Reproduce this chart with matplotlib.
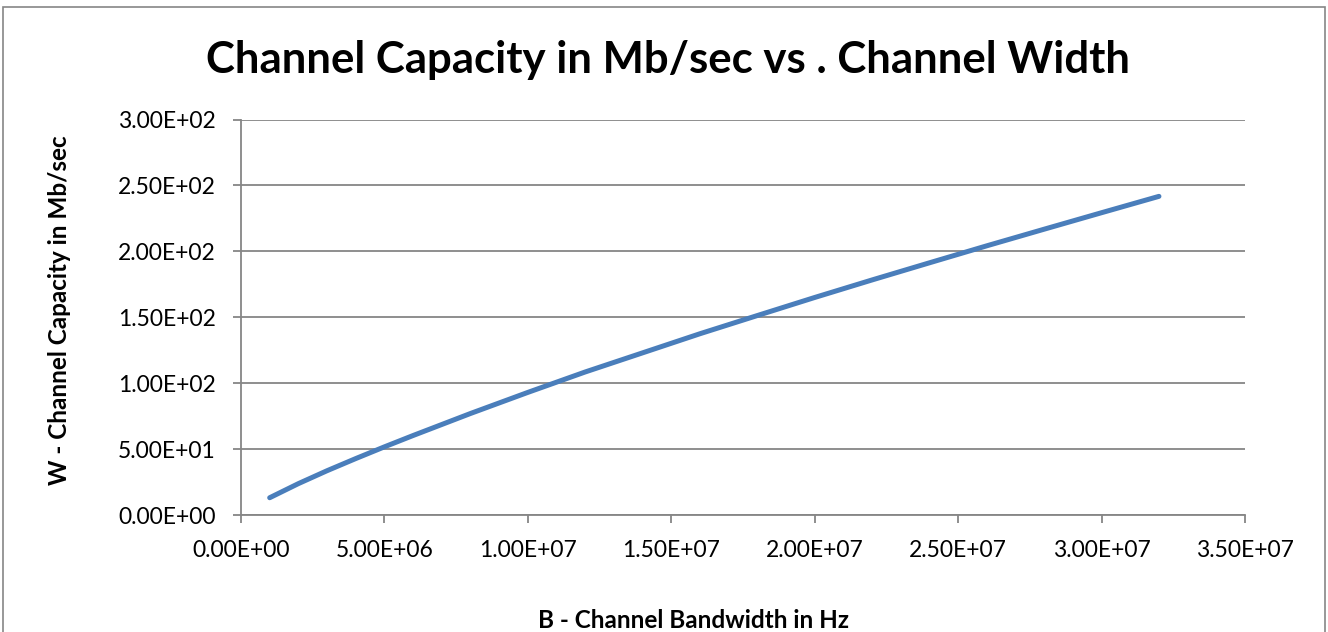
import matplotlib
matplotlib.use("Agg")
import matplotlib.pyplot as plt
import matplotlib.patches as mpatches
from matplotlib.ticker import FuncFormatter, MultipleLocator

# ---------------------------------------------------------------------------
# Data
# ---------------------------------------------------------------------------
bandwidth_hz = [1e6, 2e6, 3e6, 4e6, 5e6, 6e6, 8e6, 10e6, 12e6, 14e6, 16e6, 18e6,
                20e6, 22e6, 24e6, 26e6, 28e6, 30e6, 32e6]
capacity_mbps = [13.1, 23.8, 33.6, 42.8, 51.7, 60.3, 77.0, 93.0, 108.5, 123.0, 137.5, 151.3,
                 165.0, 178.3, 191.3, 204.2, 216.8, 229.3, 241.7]

title = "Channel Capacity in Mb/sec vs . Channel Width"
xlabel = "B - Channel Bandwidth in Hz"
ylabel = "W - Channel Capacity in Mb/sec"

# ---------------------------------------------------------------------------
# Plot
# ---------------------------------------------------------------------------
plt.rcParams["font.family"] = ["Lato", "DejaVu Sans"]

grey = "#868686"
line_col = "#4a7ebb"

fig = plt.figure(figsize=(13.28, 6.32), dpi=100)
fig.patch.set_facecolor("white")

# outer chart border
fig.patches.append(mpatches.Rectangle(
    (3 / 1328, -0.01), 1322 / 1328, 1 - 7 / 632 + 0.01,
    transform=fig.transFigure, fill=False, edgecolor=grey, linewidth=1.2))

ax = fig.add_axes([241 / 1328, 1 - 515 / 632, (1245 - 241) / 1328, (515 - 119.5) / 632])

ax.plot(bandwidth_hz, capacity_mbps, color=line_col, linewidth=3.6,
        solid_capstyle="round", solid_joinstyle="round", zorder=3)

ax.set_xlim(0, 3.5e7)
ax.set_ylim(0, 300)
ax.xaxis.set_major_locator(MultipleLocator(5e6))
ax.yaxis.set_major_locator(MultipleLocator(50))

sci = FuncFormatter(lambda v, p: f"{v:.2E}")
ax.xaxis.set_major_formatter(sci)
ax.yaxis.set_major_formatter(sci)

ax.grid(axis="y", color=grey, linewidth=1.3)
ax.set_axisbelow(True)
for side in ("top", "right"):
    ax.spines[side].set_visible(False)
for side in ("left", "bottom"):
    ax.spines[side].set_color(grey)
    ax.spines[side].set_linewidth(1.3)

ax.tick_params(axis="both", direction="out", length=6, width=1.3, color=grey,
               labelsize=16.5, labelcolor="black")
ax.tick_params(axis="x", pad=12)
ax.tick_params(axis="y", pad=12)

fig.text(0.5 * (200 + 1135) / 1328, 1 - 60 / 632, title, ha="center", va="center",
         fontsize=31.5, fontweight="bold")
fig.text(693 / 1328, 1 - 620 / 632, xlabel, ha="center", va="center",
         fontsize=17.5, fontweight="bold")
fig.text(60 / 1328, 1 - 310 / 632, ylabel, ha="center", va="center",
         rotation=90, fontsize=17.5, fontweight="bold")

fig.savefig("out.png", dpi=100)
